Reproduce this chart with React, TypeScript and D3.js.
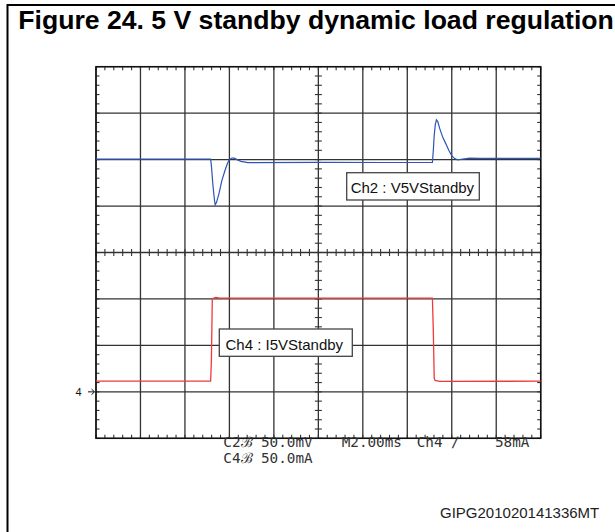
import React from "react";
import * as d3 from "d3";

// ---- data (time in ms, Ch2 in mV relative to its marker, Ch4 in mA) ----
const ch2Time = [-10, -4.845, -4.81, -4.74, -4.67, -4.64, -4.58, -4.47, -4.34, -4.2, -4.09, -4.0, -3.89, -3.78, -3.66, -3.48, -3.17, 0, 3, 5.13, 5.17, 5.21, 5.26, 5.31, 5.37, 5.46, 5.6, 5.73, 5.87, 6.0, 6.13, 6.27, 6.49, 6.81, 7.26, 10];
const ch2Volt = [0.5, 0.5, -6.5, -28, -44, -48.8, -46, -36.6, -22.6, -11.8, -4.3, 0, 1.7, 1.6, 0, -1.9, -3.2, -3.0, -3.1, -3.0, 9.7, 25.8, 37.7, 42.7, 40.9, 33.4, 23.7, 17.2, 9.7, 4.3, 1.1, -0.3, 0.5, 1.6, 1.3, 1.3];

const ch4Time = [-10, -4.845, -4.81, -4.77, -4.7, -4.61, -4.43, 0, 5.13, 5.17, 5.21, 5.25, 5.46, 10];
const ch4Curr = [11.5, 11.5, 34, 100.3, 100.9, 101.6, 100.9, 100.9, 100.9, 66.4, 14.7, 12.3, 11.2, 11.5];

const titleText = "Figure 24. 5 V standby dynamic load regulation";
const ch2Label = "Ch2 : V5VStandby";
const ch4Label = "Ch4 : I5VStandby";
const footerText = "GIPG201020141336MT";
const scopeRow1 = ["C2\u212C", "50.0mV", "M2.00ms", "Ch4", "\u2215", "58mA"];
const scopeRow2 = ["C4\u212C", "50.0mA"];

const ch2VoltsPerDiv = 50;
const ch4AmpsPerDiv = 50;
const ch2OffsetDiv = 2;
const ch4OffsetDiv = -3;

export default function App() {
  const W = 615, H = 532;
  const left = 96, right = 540.7, top = 66.7, bottom = 438.3;
  const x = d3.scaleLinear().domain([-10, 10]).range([left, right]);
  const y = d3.scaleLinear().domain([-4, 4]).range([bottom, top]);
  const cx = x(0), cy = y(0);

  const ch2 = ch2Time.map((t, i) => [t, ch2Volt[i] / ch2VoltsPerDiv + ch2OffsetDiv] as [number, number]);
  const ch4 = ch4Time.map((t, i) => [t, ch4Curr[i] / ch4AmpsPerDiv + ch4OffsetDiv] as [number, number]);
  const line = d3.line<[number, number]>().x(d => x(d[0])).y(d => y(d[1]));

  const vLines = d3.range(-10, 10.01, 2);
  const hLines = d3.range(-4, 4.01, 1);
  const xMinor = d3.range(-10, 10.001, 0.4);
  const yMinor = d3.range(-4, 4.001, 0.2);

  const gridColor = "#333";
  const tl = 3.5;

  const monoFont = "'DejaVu Sans Mono', monospace";
  const row1X = [223.3, 261, 341.7, 416.7, 451, 495];
  const row2X = [223.3, 261];

  return (
    <svg width={W} height={H} style={{ position: "absolute", left: 0, top: 0, background: "#fff" }}
      fontFamily="'Liberation Sans', Arial, sans-serif">
      {/* outer frame */}
      <line x1={7.5} y1={5} x2={W} y2={5} stroke="#000" strokeWidth={2} />
      <line x1={7.5} y1={4} x2={7.5} y2={H} stroke="#000" strokeWidth={2} />
      <text x={18.3} y={28.5} fontSize={26.6} fontWeight="bold" fill="#000">{titleText}</text>

      {/* grid */}
      {vLines.map(v => (
        <line key={"v" + v} x1={x(v)} x2={x(v)} y1={top} y2={bottom} stroke={gridColor} strokeWidth={1.3} />
      ))}
      {hLines.map(v => (
        <line key={"h" + v} x1={left} x2={right} y1={y(v)} y2={y(v)} stroke={gridColor} strokeWidth={1.3} />
      ))}
      {xMinor.map((v, i) => (
        <g key={"xm" + i} stroke={gridColor} strokeWidth={1.1}>
          <line x1={x(v)} x2={x(v)} y1={top} y2={top + tl} />
          <line x1={x(v)} x2={x(v)} y1={bottom} y2={bottom - tl} />
          <line x1={x(v)} x2={x(v)} y1={cy - tl} y2={cy + tl} />
        </g>
      ))}
      {yMinor.map((v, i) => (
        <g key={"ym" + i} stroke={gridColor} strokeWidth={1.1}>
          <line x1={left} x2={left + tl} y1={y(v)} y2={y(v)} />
          <line x1={right} x2={right - tl} y1={y(v)} y2={y(v)} />
          <line x1={cx - tl} x2={cx + tl} y1={y(v)} y2={y(v)} />
        </g>
      ))}
      <rect x={left} y={top} width={right - left} height={bottom - top} fill="none" stroke="#111" strokeWidth={1.5} />

      {/* traces */}
      <path d={line(ch2) || ""} fill="none" stroke="#2f55b4" strokeWidth={1.2} />
      <path d={line(ch4) || ""} fill="none" stroke="#ee3a3a" strokeWidth={1.3} />

      {/* labels */}
      <rect x={346.7} y={172.7} width={132.6} height={27.3} fill="#fff" stroke="#444" strokeWidth={1.3} />
      <text x={350.7} y={193.3} fontSize={15} fill="#111">{ch2Label}</text>
      <rect x={219.3} y={329} width={133} height={27.3} fill="#fff" stroke="#444" strokeWidth={1.3} />
      <text x={225.5} y={349.6} fontSize={15} fill="#111">{ch4Label}</text>

      {/* channel 4 marker */}
      <text x={75.5} y={395.8} fontSize={11} fill="#111">4</text>
      <path d={`M${88},${y(ch4OffsetDiv)} L${94.5},${y(ch4OffsetDiv)} M${91.5},${y(ch4OffsetDiv) - 2.8} L${94.5},${y(ch4OffsetDiv)} L${91.5},${y(ch4OffsetDiv) + 2.8}`}
        stroke="#111" strokeWidth={1} fill="none" />

      {/* scope readout */}
      {scopeRow1.map((s, i) => (
        <text key={"r1" + i} x={row1X[i]} y={447.3} fontSize={14.3} fontFamily={monoFont} fill="#333">{s}</text>
      ))}
      {scopeRow2.map((s, i) => (
        <text key={"r2" + i} x={row2X[i]} y={462.5} fontSize={14.3} fontFamily={monoFont} fill="#333">{s}</text>
      ))}

      <text x={440} y={517.5} fontSize={15} fill="#222">{footerText}</text>
    </svg>
  );
}
